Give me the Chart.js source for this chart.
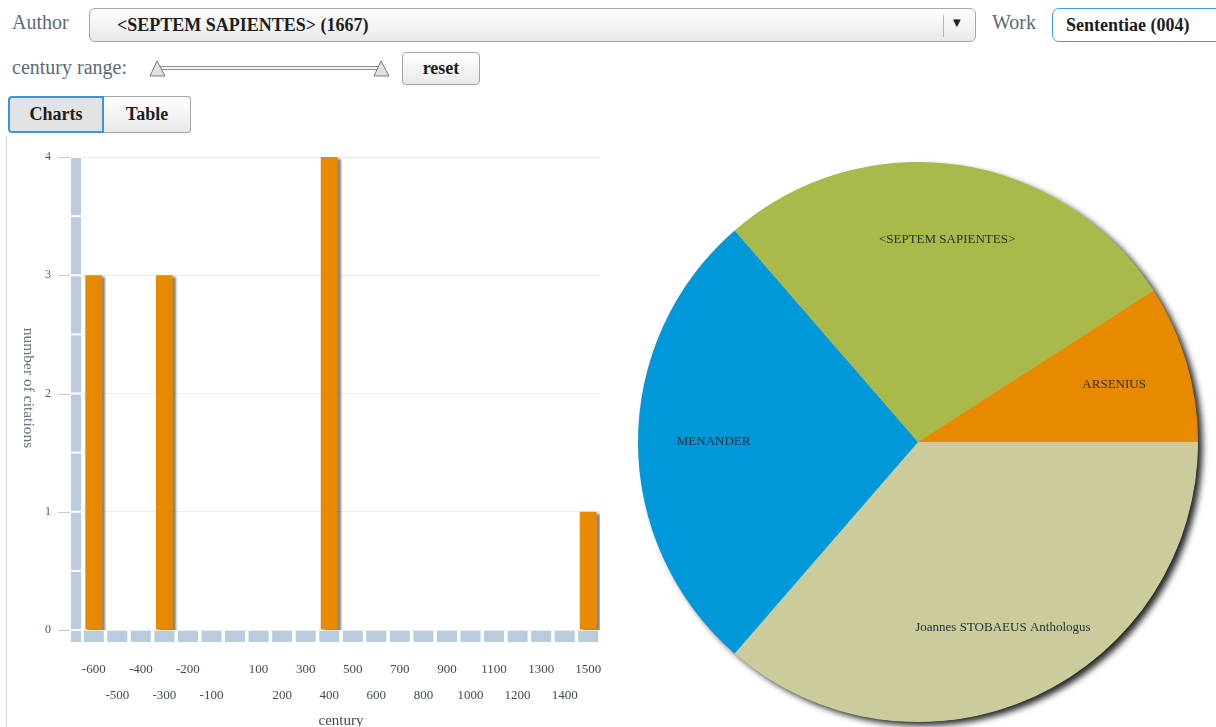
<!DOCTYPE html>
<html>
<head>
<meta charset="utf-8">
<script src="https://cdn.jsdelivr.net/npm/chart.js@4.4.0/dist/chart.umd.min.js"></script>
<style>
  html, body { margin: 0; padding: 0; width: 1216px; height: 727px; overflow: hidden; background: #fff; }
  body { position: relative; font-family: 'Liberation Serif', serif; }
  .abs { position: absolute; }
  .lbl { font-size: 20px; color: #5b6a73; line-height: 22px; }
  .box {
    box-sizing: border-box; border: 1px solid #a5a5a5; border-radius: 6px;
    background: linear-gradient(#ffffff, #e9e9e9);
    font-weight: bold; font-size: 18px; color: #1d1d1d;
  }
  .btn { display: flex; align-items: center; justify-content: center; }
  #charts, #pie { position: absolute; }
</style>
</head>
<body>

<div class="abs lbl" style="left:12px;top:11px">Author</div>
<div class="abs box" style="left:89px;top:8px;width:887px;height:34px">
  <span class="abs" style="left:27px;top:6px">&lt;SEPTEM SAPIENTES&gt; (1667)</span>
  <span class="abs" style="left:853px;top:6px;width:1px;height:22px;background:#b5b5b5"></span>
  <span class="abs" style="left:863px;top:8px;font:10px 'DejaVu Sans';color:#222">▼</span>
</div>
<div class="abs lbl" style="left:992px;top:11px">Work</div>
<div class="abs box" style="left:1052px;top:8px;width:190px;height:34px;border-color:#3d9ddb;border-radius:7px;background:#fff">
  <span class="abs" style="left:13px;top:6px">Sententiae (004)</span>
</div>

<div class="abs lbl" style="left:12px;top:56px">century range:</div>
<div class="abs" style="left:160px;top:66px;width:220px;height:2px;border:1px solid #8c8c8c;background:#f4f4f4"></div>
<svg class="abs" style="left:148px;top:60px" width="20" height="18"><polygon points="9,1 2,16 17,16" fill="#e2e2e2" stroke="#7a7a7a" stroke-width="1"/></svg>
<svg class="abs" style="left:372px;top:60px" width="20" height="18"><polygon points="9,1 2,16 17,16" fill="#e2e2e2" stroke="#7a7a7a" stroke-width="1"/></svg>
<div class="abs box btn" style="left:402px;top:52px;width:78px;height:33px;border-radius:4px">reset</div>

<div class="abs box btn" style="left:8px;top:96px;width:96px;height:37px;border:2px solid #3b95d8;border-radius:4px 0 0 4px;background:#e3e3e3">Charts</div>
<div class="abs box btn" style="left:104px;top:96px;width:87px;height:37px;border-left:none;border-radius:0 4px 4px 0">Table</div>

<div class="abs" style="left:6px;top:135px;width:1px;height:600px;background:#d9d9d9"></div>

<canvas id="charts" width="615" height="590" style="left:0;top:140px"></canvas>
<canvas id="pie" width="590" height="584" style="left:628px;top:150px"></canvas>

<script>
/* ── data ── */
const centuries = [-600, -500, -400, -300, -200, -100, 0, 100, 200, 300, 400,
    500, 600, 700, 800, 900, 1000, 1100, 1200, 1300, 1400, 1500];
const citations = [3, 0, 0, 3, 0, 0, 0, 0, 0, 0, 4, 0, 0, 0, 0, 0, 0, 0, 0, 0, 0, 1];
// staggered tick labels: [upper row, lower row]
const centuryTicks = [
    ['-600', ''], ['', '-500'], ['-400', ''], ['', '-300'], ['-200', ''], ['', '-100'],
    ['', ''], ['100', ''], ['', '200'], ['300', ''], ['', '400'], ['500', ''],
    ['', '600'], ['700', ''], ['', '800'], ['900', ''], ['', '1000'], ['1100', ''],
    ['', '1200'], ['1300', ''], ['', '1400'], ['1500', '']
];
const yTicks = [0, 1, 2, 3, 4];

const authors = ['Joannes STOBAEUS Anthologus', 'MENANDER', '<SEPTEM SAPIENTES>', 'ARSENIUS'];
const authorCounts = [4, 3, 3, 1];
const authorColors = ['#cccb9c', '#0098d9', '#a9ba4a', '#e88a00'];

const BLOCK = '#b9cbdd';
const TXT = '#3d4c56';

Chart.defaults.font.family = "'Liberation Serif', serif";
Chart.defaults.animation = false;

/* ── bar chart decorations: shadow, axis blocks, tick marks, y title ── */
const barDecor = {
    id: 'barDecor',
    beforeDatasetsDraw(chart) {
        const ctx = chart.ctx;
        ctx.save();
        ctx.shadowColor = 'rgba(50,50,50,0.6)';
        ctx.shadowOffsetX = 3;
        ctx.shadowOffsetY = 2;
        ctx.shadowBlur = 2;
    },
    afterDatasetsDraw(chart) {
        const ctx = chart.ctx;
        ctx.restore();
        const a = chart.chartArea, x = chart.scales.x, y = chart.scales.y;
        ctx.save();
        ctx.fillStyle = BLOCK;
        for (let v = 0; v < 4; v += 0.5) {
            const t = y.getPixelForValue(v + 0.5), b = y.getPixelForValue(v);
            ctx.fillRect(a.left - 11, t + 1, 10, b - t - 2);
        }
        ctx.fillRect(a.left - 11, a.bottom + 1, 10, 11);
        centuries.forEach((c, i) => {
            const px = x.getPixelForValue(i);
            ctx.fillRect(px - 10, a.bottom + 1, 20, 11);
        });
        ctx.strokeStyle = BLOCK;
        ctx.lineWidth = 1;
        yTicks.forEach(v => {
            const py = Math.round(y.getPixelForValue(v)) + 0.5;
            ctx.beginPath();
            ctx.moveTo(a.left - 24, py);
            ctx.lineTo(a.left - 12, py);
            ctx.stroke();
        });
        // y title reads top-to-bottom
        ctx.translate(28, 248);
        ctx.rotate(Math.PI / 2);
        ctx.font = "15.5px 'Liberation Serif'";
        ctx.fillStyle = '#66757f';
        ctx.textAlign = 'center';
        ctx.textBaseline = 'middle';
        ctx.fillText('number of citations', 0, 0);
        ctx.restore();
    }
};

new Chart(document.getElementById('charts'), {
    type: 'bar',
    data: {
        labels: centuryTicks,
        datasets: [{
            data: citations,
            backgroundColor: '#e88a00',
            borderWidth: 0,
            categoryPercentage: 1,
            barPercentage: 0.72,
        }],
    },
    options: {
        responsive: false,
        layout: { padding: { left: 0, right: 15, top: 17, bottom: 0 } },
        plugins: { legend: { display: false }, tooltip: { enabled: false } },
        scales: {
            x: {
                grid: { display: false, drawTicks: false },
                border: { display: false },
                ticks: {
                    autoSkip: false, maxRotation: 0, minRotation: 0,
                    color: TXT, padding: 27,
                    font: { size: 13, lineHeight: 2 },
                },
                title: { display: true, text: 'century', color: TXT, font: { size: 15 }, padding: 0 },
                afterFit(s) { s.height = 100; s.paddingLeft = 0; s.paddingRight = 0; },
            },
            y: {
                min: 0, max: 4,
                grid: { color: '#ececec', drawTicks: false },
                border: { display: false },
                ticks: { stepSize: 1, color: '#4d5c66', padding: 31, font: { size: 12 } },
                afterFit(s) { s.width = 82; s.paddingTop = 0; s.paddingBottom = 0; },
            },
        },
    },
    plugins: [barDecor],
});

/* ── pie: drop shadow + in-slice labels ── */
const pieDecor = {
    id: 'pieDecor',
    beforeDatasetsDraw(chart) {
        const arc = chart.getDatasetMeta(0).data[0];
        if (!arc) return;
        const p = arc.getProps(['x', 'y', 'outerRadius'], true);
        const ctx = chart.ctx;
        ctx.save();
        ctx.shadowColor = 'rgba(0,0,0,0.85)';
        ctx.shadowBlur = 6;
        ctx.shadowOffsetX = 5;
        ctx.shadowOffsetY = 4;
        ctx.fillStyle = '#cccb9c';
        ctx.beginPath();
        ctx.arc(p.x, p.y, p.outerRadius - 0.5, 0, Math.PI * 2);
        ctx.fill();
        ctx.restore();
    },
    afterDatasetsDraw(chart) {
        const ctx = chart.ctx;
        ctx.save();
        ctx.font = "13px 'Liberation Serif'";
        ctx.fillStyle = '#22323c';
        ctx.textAlign = 'center';
        ctx.textBaseline = 'middle';
        chart.getDatasetMeta(0).data.forEach((arc, i) => {
            const p = arc.getProps(['x', 'y', 'startAngle', 'endAngle', 'outerRadius'], true);
            const mid = (p.startAngle + p.endAngle) / 2;
            const r = p.outerRadius * 0.73;
            ctx.fillText(authors[i], p.x + Math.cos(mid) * r, p.y + Math.sin(mid) * r);
        });
        ctx.restore();
    }
};

new Chart(document.getElementById('pie'), {
    type: 'pie',
    data: {
        labels: authors,
        datasets: [{
            data: authorCounts,
            backgroundColor: authorColors,
            borderWidth: 0,
            clip: false,
        }],
    },
    options: {
        responsive: false,
        rotation: 90,
        layout: { padding: { left: 10, right: 20, top: 12, bottom: 12 } },
        plugins: { legend: { display: false }, tooltip: { enabled: false } },
    },
    plugins: [pieDecor],
});
</script>
</body>
</html>
